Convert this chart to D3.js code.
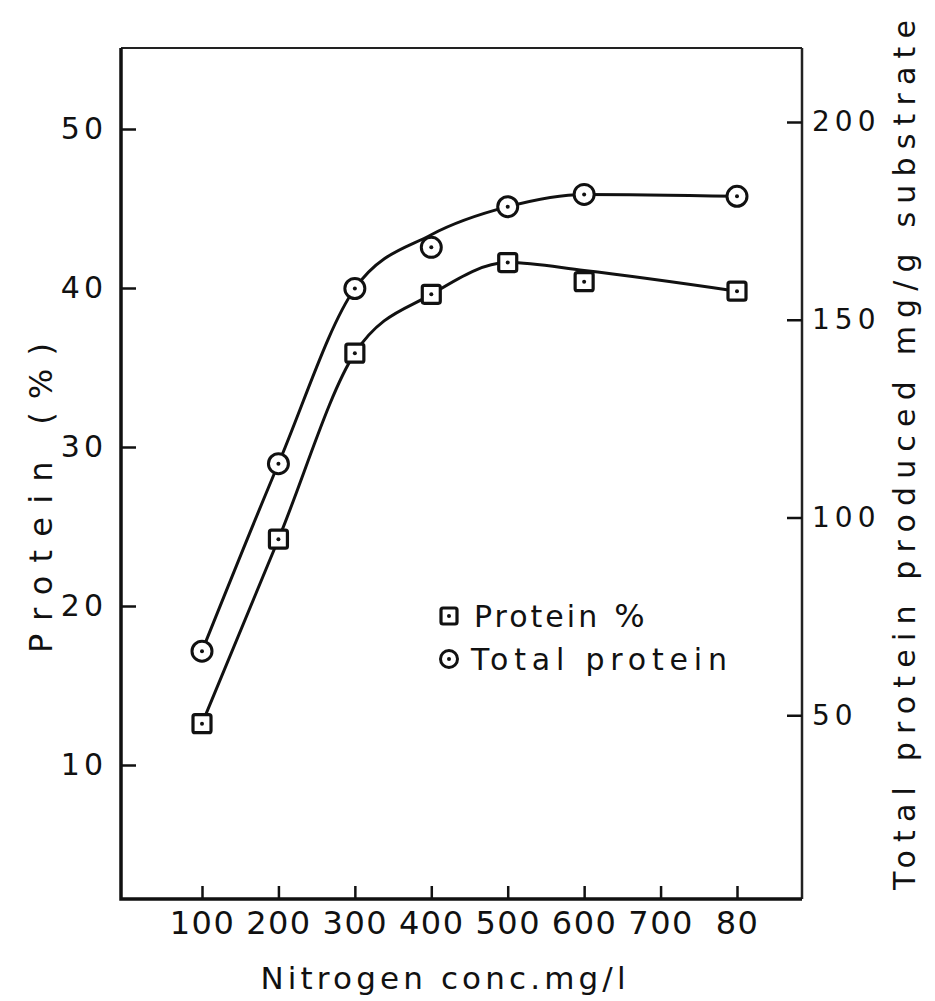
<!DOCTYPE html>
<html>
<head>
<meta charset="utf-8">
<script src="https://cdn.jsdelivr.net/npm/d3@7"></script>
<style>
  html, body { margin: 0; padding: 0; background: #fff; }
  svg { display: block; }
  text { font-family: "DejaVu Sans", sans-serif; fill: #111; }
</style>
</head>
<body>
<svg id="chart" width="935" height="1001"></svg>
<script>
// ---- data ----
const nitrogenConc = [100, 200, 300, 400, 500, 600, 800];
const proteinPct = [12.6, 24.2, 35.9, 39.6, 41.6, 40.4, 39.8];
const totalProtein = [66.2, 113.6, 157.9, 168.3, 178.6, 181.7, 181.2];
// hand-drawn fitted curves (at the same x values)
const proteinPctCurve = [12.6, 24.2, 35.9, 39.6, 41.6, 41.1, 39.8];
const totalProteinCurve = [66.2, 113.6, 157.9, 171.5, 178.6, 181.7, 181.2];
const xTicks = [100, 200, 300, 400, 500, 600, 700, 800];
const xTickLabels = ["100", "200", "300", "400", "500", "600", "700", "80"];
const leftTicks = [10, 20, 30, 40, 50];
const rightTicks = [50, 100, 150, 200];
const legendLabels = ["Protein", "%", "Total protein"];

// ---- layout ----
const frame = { left: 121, right: 802, top: 48, bottom: 899 };
const svg = d3.select("#chart");

const x = d3.scaleLinear().domain([100, 800]).range([202, 737]);
const yL = d3.scaleLinear().domain([0, 50]).range([924, 129]);
const yR = d3.scaleLinear().domain([0, 200]).range([913, 122]);

// frame
svg.append("path")
  .attr("d", `M${frame.left},${frame.top}H${frame.right}`)
  .attr("fill", "none").attr("stroke", "#222").attr("stroke-width", 2);
svg.append("path")
  .attr("d", `M${frame.right},${frame.top}V${frame.bottom}`)
  .attr("fill", "none").attr("stroke", "#222").attr("stroke-width", 2.5);
svg.append("path")
  .attr("d", `M${frame.left},${frame.top}V${frame.bottom}H${frame.right}`)
  .attr("fill", "none").attr("stroke", "#111").attr("stroke-width", 3.5);

// axes
const gL = svg.append("g").attr("transform", `translate(${frame.left},0)`)
  .call(d3.axisLeft(yL).tickValues(leftTicks).tickSize(-15).tickPadding(14).tickFormat(d3.format("d")));
const gR = svg.append("g").attr("transform", `translate(${frame.right},0)`)
  .call(d3.axisRight(yR).tickValues(rightTicks).tickSize(-15).tickPadding(10).tickFormat(d3.format("d")));
const gB = svg.append("g").attr("transform", `translate(0,${frame.bottom})`)
  .call(d3.axisBottom(x).tickValues(xTicks).tickSize(-13).tickPadding(12)
    .tickFormat((d, i) => xTickLabels[i]));

[gL, gR, gB].forEach(g => {
  g.select(".domain").remove();
  g.selectAll(".tick line").attr("stroke", "#111").attr("stroke-width", 2.5);
  g.selectAll(".tick text").attr("font-family", "DejaVu Sans, sans-serif").attr("fill", "#111");
});
gL.selectAll(".tick text").attr("font-size", 30).attr("letter-spacing", 4);
gR.selectAll(".tick text").attr("font-size", 28).attr("letter-spacing", 5).attr("fill", "#333");
gB.selectAll(".tick text").attr("font-size", 32).attr("letter-spacing", 1.5).attr("dy", "0.71em");

// axis titles
svg.append("text")
  .attr("transform", `translate(52,498) rotate(-90)`)
  .attr("text-anchor", "middle").attr("font-size", 32)
  .attr("textLength", 310).attr("lengthAdjust", "spacing")
  .text("Protein (%)");
svg.append("text")
  .attr("transform", `translate(915,455) rotate(-90)`)
  .attr("text-anchor", "middle").attr("font-size", 30)
  .attr("textLength", 870).attr("lengthAdjust", "spacing")
  .text("Total protein produced mg/g substrate");
svg.append("text")
  .attr("x", 443).attr("y", 989)
  .attr("text-anchor", "middle").attr("font-size", 31)
  .attr("textLength", 365).attr("lengthAdjust", "spacing")
  .text("Nitrogen conc.mg/l");

// curves
const lineL = d3.line().x((d, i) => x(nitrogenConc[i])).y(d => yL(d)).curve(d3.curveMonotoneX);
const lineR = d3.line().x((d, i) => x(nitrogenConc[i])).y(d => yR(d)).curve(d3.curveMonotoneX);
svg.append("path").attr("d", lineR(totalProteinCurve))
  .attr("fill", "none").attr("stroke", "#111").attr("stroke-width", 3);
svg.append("path").attr("d", lineL(proteinPctCurve))
  .attr("fill", "none").attr("stroke", "#111").attr("stroke-width", 3);

// markers
function square(g, cx, cy, s) {
  g.append("rect").attr("x", cx - s / 2).attr("y", cy - s / 2).attr("width", s).attr("height", s)
    .attr("rx", 2).attr("fill", "#fff").attr("stroke", "#111").attr("stroke-width", 3.2);
  g.append("circle").attr("cx", cx).attr("cy", cy).attr("r", 2).attr("fill", "#111");
}
function ring(g, cx, cy, r) {
  g.append("circle").attr("cx", cx).attr("cy", cy).attr("r", r)
    .attr("fill", "#fff").attr("stroke", "#111").attr("stroke-width", 3);
  g.append("circle").attr("cx", cx).attr("cy", cy).attr("r", 2).attr("fill", "#111");
}
const gm = svg.append("g");
totalProtein.forEach((v, i) => ring(gm, x(nitrogenConc[i]), yR(v), 10));
proteinPct.forEach((v, i) => square(gm, x(nitrogenConc[i]), yL(v), 18));

// legend
const lg = svg.append("g");
square(lg, 449, 616, 16);
ring(lg, 449, 659, 8.5);
const t1 = lg.append("text").attr("x", 474).attr("y", 627).attr("font-size", 30).attr("letter-spacing", 3);
t1.append("tspan").text(legendLabels[0]);
t1.append("tspan").attr("dx", 14).attr("font-size", 32).text(legendLabels[1]);
lg.append("text").attr("x", 471).attr("y", 670).attr("font-size", 30)
  .attr("textLength", 256).attr("lengthAdjust", "spacing").text(legendLabels[2]);
</script>
</body>
</html>
